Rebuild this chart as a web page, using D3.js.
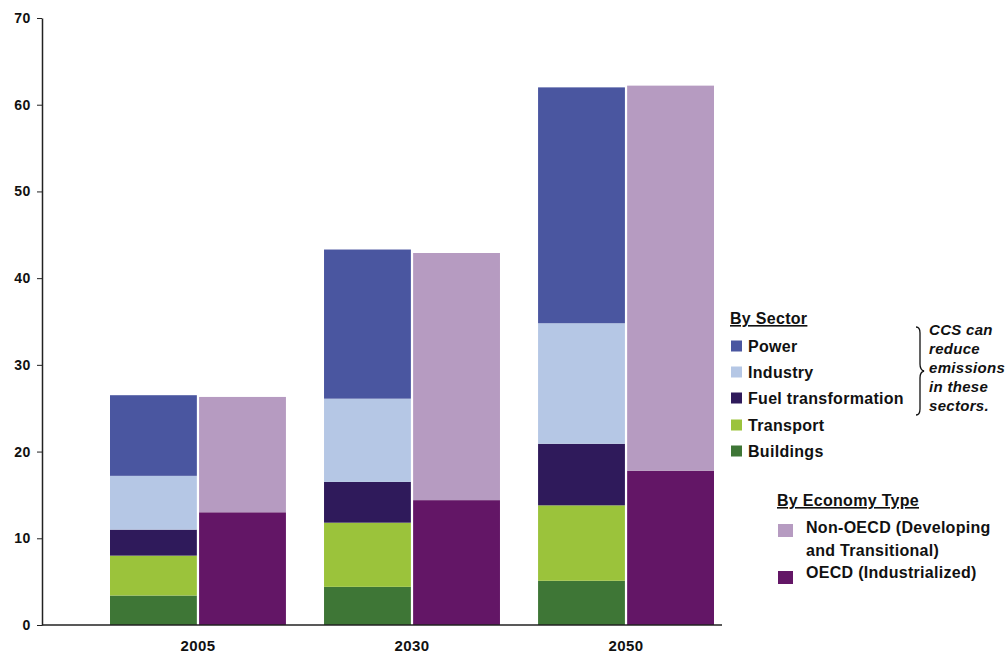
<!DOCTYPE html>
<html>
<head>
<meta charset="utf-8">
<script src="https://cdn.jsdelivr.net/npm/d3@7"></script>
<style>
  body { margin: 0; background: #fff; }
  text { font-family: "Liberation Sans", Arial, sans-serif; }
</style>
</head>
<body>
<svg id="chart"></svg>
<script>
// Emissions by sector and by economy type (Gt CO2)
const years = ["2005", "2030", "2050"]
const sectors = ["Buildings", "Transport", "Fuel transformation", "Industry", "Power"]
const buildings = [3.4, 4.4, 5.1]
const transport = [4.6, 7.4, 8.7]
const fuelTransformation = [3.0, 4.7, 7.1]
const industry = [6.2, 9.6, 13.9]
const power = [9.3, 17.2, 27.2]
const economies = ["OECD (Industrialized)", "Non-OECD (Developing and Transitional)"]
const oecd = [13.0, 14.4, 17.8]
const nonOecd = [13.3, 28.5, 44.4]
const yTicks = [0, 10, 20, 30, 40, 50, 60, 70]

const sectorColors = ["#3e7636", "#9bc33b", "#2f1a5b", "#b5c7e5", "#4a56a0"]
const economyColors = ["#631666", "#b69bc1"]

const width = 1008
const height = 656

const svg = d3.select("#chart")
  .attr("width", width)
  .attr("height", height)

// Scales
const x = d3.scaleBand()
  .domain(years)
  .range([110, 714])
  .paddingInner(0.178)

const inner = d3.scaleBand()
  .domain(["sector", "economy"])
  .range([0, x.bandwidth()])
  .paddingInner(0.025)

const y = d3.scaleLinear()
  .domain([0, 70])
  .range([625, 18])

// Build stacked tables
const sectorSeries = [buildings, transport, fuelTransformation, industry, power]
const sectorRows = years.map((yr, i) => {
  const row = { year: yr }
  sectors.forEach((s, k) => row[s] = sectorSeries[k][i])
  return row
})
const economyRows = years.map((yr, i) => ({ year: yr, [economies[0]]: oecd[i], [economies[1]]: nonOecd[i] }))

const sectorStack = d3.stack().keys(sectors)(sectorRows)
const economyStack = d3.stack().keys(economies)(economyRows)

// Sector bars
svg.append("g")
  .selectAll("g")
  .data(sectorStack)
  .join("g")
  .attr("fill", (d, i) => sectorColors[i])
  .selectAll("rect")
  .data(d => d)
  .join("rect")
  .attr("x", d => x(d.data.year) + inner("sector"))
  .attr("y", d => y(d[1]))
  .attr("width", inner.bandwidth())
  .attr("height", d => y(d[0]) - y(d[1]))

// Economy bars
svg.append("g")
  .selectAll("g")
  .data(economyStack)
  .join("g")
  .attr("fill", (d, i) => economyColors[i])
  .selectAll("rect")
  .data(d => d)
  .join("rect")
  .attr("x", d => x(d.data.year) + inner("economy"))
  .attr("y", d => y(d[1]))
  .attr("width", inner.bandwidth())
  .attr("height", d => y(d[0]) - y(d[1]))

// Y axis
svg.append("g")
  .attr("transform", "translate(42,0)")
  .call(d3.axisLeft(y).tickValues(yTicks).tickSize(5).tickSizeOuter(0))
  .call(g => g.select(".domain").attr("stroke", "#222").attr("stroke-width", 1.5))
  .call(g => g.selectAll(".tick line").attr("stroke", "#222"))
  .call(g => g.selectAll(".tick text")
    .attr("x", -11)
    .attr("fill", "#111")
    .attr("font-family", "Liberation Sans, Arial, sans-serif")
    .attr("font-weight", "bold")
    .attr("font-size", 14)
    .attr("letter-spacing", 0.6))

// Baseline
svg.append("line")
  .attr("x1", 42).attr("x2", 722)
  .attr("y1", y(0)).attr("y2", y(0))
  .attr("stroke", "#222")
  .attr("stroke-width", 1.5)

// X axis labels
svg.append("g")
  .attr("transform", `translate(0,${y(0)})`)
  .call(d3.axisBottom(x).tickSize(0).tickPadding(15))
  .call(g => g.select(".domain").remove())
  .call(g => g.selectAll(".tick text")
    .attr("fill", "#111")
    .attr("font-family", "Liberation Sans, Arial, sans-serif")
    .attr("font-weight", "bold")
    .attr("font-size", 15)
    .attr("letter-spacing", 0.4))

// Sector legend
const sectorLegend = svg.append("g").attr("transform", "translate(730,0)")
sectorLegend.append("text")
  .attr("x", 0).attr("y", 324)
  .attr("font-size", 16).attr("font-weight", "bold")
  .attr("letter-spacing", 0.3)
  .attr("text-decoration", "underline")
  .attr("fill", "#111")
  .text("By Sector")

const legendY = [346, 372, 398, 425, 451]
const sectorItems = sectorLegend.selectAll("g.item")
  .data(sectors.slice().reverse())
  .join("g")
  .attr("class", "item")
  .attr("transform", (d, i) => `translate(0,${legendY[i]})`)
sectorItems.append("rect")
  .attr("x", 1).attr("y", -5.5)
  .attr("width", 11).attr("height", 11)
  .attr("fill", d => sectorColors[sectors.indexOf(d)])
sectorItems.append("text")
  .attr("x", 18).attr("y", 5.5)
  .attr("font-size", 16).attr("font-weight", "bold")
  .attr("letter-spacing", 0.3)
  .attr("fill", "#111")
  .text(d => d)

// Brace and CCS note
svg.append("path")
  .attr("d", "M916,327 Q920,327 920,333 L920,364 Q920,370 924,371 Q920,372 920,378 L920,409 Q920,415 916,415")
  .attr("fill", "none")
  .attr("stroke", "#111")
  .attr("stroke-width", 1.3)

const note = ["CCS can", "reduce", "emissions", "in these", "sectors."]
svg.append("g")
  .selectAll("text")
  .data(note)
  .join("text")
  .attr("x", 929)
  .attr("y", (d, i) => 335 + i * 19)
  .attr("font-size", 15)
  .attr("font-weight", "bold")
  .attr("font-style", "italic")
  .attr("letter-spacing", 0.3)
  .attr("fill", "#111")
  .text(d => d)

// Economy legend
const econLegend = svg.append("g").attr("transform", "translate(777,0)")
econLegend.append("text")
  .attr("x", 0).attr("y", 506)
  .attr("font-size", 16).attr("font-weight", "bold")
  .attr("letter-spacing", 0.3)
  .attr("text-decoration", "underline")
  .attr("fill", "#111")
  .text("By Economy Type")

econLegend.append("rect")
  .attr("x", 1).attr("y", 524).attr("width", 15).attr("height", 13)
  .attr("fill", economyColors[1])
econLegend.append("text")
  .attr("x", 29).attr("y", 533)
  .attr("font-size", 16).attr("font-weight", "bold").attr("letter-spacing", 0.3).attr("fill", "#111")
  .text("Non-OECD (Developing")
econLegend.append("text")
  .attr("x", 29).attr("y", 556)
  .attr("font-size", 16).attr("font-weight", "bold").attr("letter-spacing", 0.3).attr("fill", "#111")
  .text("and Transitional)")

econLegend.append("rect")
  .attr("x", 1).attr("y", 571).attr("width", 15).attr("height", 13)
  .attr("fill", economyColors[0])
econLegend.append("text")
  .attr("x", 29).attr("y", 578)
  .attr("font-size", 16).attr("font-weight", "bold").attr("letter-spacing", 0.3).attr("fill", "#111")
  .text("OECD (Industrialized)")
</script>
</body>
</html>
